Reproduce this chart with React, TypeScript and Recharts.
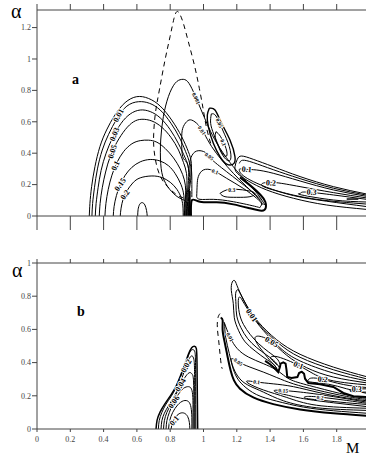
import { ComposedChart, Line, Scatter, XAxis, YAxis } from 'recharts'

const SERIF = 'Liberation Serif, Times New Roman, serif'

const mTicks = [0, 0.2, 0.4, 0.6, 0.8, 1, 1.2, 1.4, 1.6, 1.8, 2]
const aTicks = [0, 0.2, 0.4, 0.6, 0.8, 1, 1.2]
const bTicks = [0, 0.2, 0.4, 0.6, 0.8, 1]

// panel a: left lobe arches
const aArch1 = [[0.314,0],[0.318,0.081],[0.328,0.187],[0.348,0.314],[0.378,0.442],[0.418,0.548],[0.468,0.643],[0.529,0.722],[0.599,0.76],[0.669,0.749],[0.739,0.701],[0.809,0.611],[0.869,0.505],[0.909,0.41],[0.927,0.335],[0.923,0.229],[0.911,0.123],[0.909,0]]
const aArch2 = [[0.33,0],[0.334,0.08],[0.345,0.18],[0.363,0.3],[0.392,0.42],[0.43,0.52],[0.48,0.62],[0.54,0.7],[0.61,0.728],[0.675,0.718],[0.74,0.675],[0.805,0.59],[0.86,0.49],[0.9,0.39],[0.918,0.32],[0.916,0.22],[0.906,0.12],[0.903,0]]
const aArch3 = [[0.35,0],[0.355,0.08],[0.367,0.18],[0.385,0.29],[0.415,0.4],[0.455,0.5],[0.505,0.59],[0.56,0.65],[0.62,0.675],[0.68,0.665],[0.74,0.625],[0.8,0.55],[0.85,0.46],[0.89,0.37],[0.91,0.3],[0.908,0.2],[0.9,0.1],[0.898,0]]
const aArch4 = [[0.374,0],[0.379,0.08],[0.392,0.18],[0.412,0.28],[0.44,0.38],[0.48,0.47],[0.53,0.55],[0.58,0.6],[0.63,0.616],[0.69,0.605],[0.75,0.565],[0.805,0.5],[0.85,0.42],[0.88,0.34],[0.898,0.27],[0.9,0.18],[0.895,0.09],[0.893,0]]
const aArch5 = [[0.408,0],[0.414,0.08],[0.428,0.17],[0.45,0.26],[0.48,0.34],[0.52,0.41],[0.57,0.46],[0.62,0.48],[0.67,0.483],[0.72,0.47],[0.77,0.43],[0.82,0.37],[0.86,0.3],[0.885,0.23],[0.893,0.16],[0.89,0.08],[0.888,0]]
const aArch6 = [[0.458,0],[0.463,0.06],[0.477,0.13],[0.5,0.2],[0.53,0.26],[0.57,0.31],[0.62,0.345],[0.68,0.36],[0.74,0.35],[0.79,0.32],[0.83,0.27],[0.865,0.2],[0.882,0.13],[0.885,0.06],[0.884,0]]
const aArch7 = [[0.5,0],[0.505,0.05],[0.518,0.11],[0.54,0.16],[0.575,0.21],[0.62,0.243],[0.69,0.255],[0.75,0.245],[0.8,0.215],[0.84,0.17],[0.868,0.11],[0.877,0.05],[0.878,0]]
const aInner = [[0.605,0],[0.607,0.04],[0.617,0.075],[0.633,0.085],[0.648,0.07],[0.658,0.035],[0.662,0]]

// panel a: dashed boundary and middle family
const aDash = [[0.885,0],[0.885,0.102],[0.859,0.123],[0.809,0.161],[0.759,0.219],[0.723,0.304],[0.703,0.42],[0.701,0.527],[0.711,0.654],[0.735,0.803],[0.769,0.994],[0.799,1.142],[0.823,1.259],[0.839,1.301],[0.855,1.291],[0.879,1.227],[0.909,1.11],[0.945,0.962],[0.975,0.813],[0.999,0.675],[1.019,0.558],[1.043,0.463]]
const aTall = [[0.909,0],[0.903,0.081],[0.859,0.113],[0.809,0.155],[0.763,0.229],[0.743,0.335],[0.743,0.484],[0.759,0.633],[0.789,0.76],[0.829,0.845],[0.869,0.87],[0.905,0.856],[0.939,0.792],[0.969,0.718],[1.003,0.633],[1.043,0.537],[1.099,0.431],[1.179,0.314],[1.259,0.219],[1.329,0.134],[1.369,0.07]]
const aMid01 = [[0.918,0.25],[0.9,0.34],[0.875,0.378],[0.869,0.484],[0.875,0.558],[0.899,0.601],[0.929,0.611],[0.969,0.58],[1.003,0.527],[1.049,0.442],[1.109,0.357],[1.179,0.272],[1.259,0.187],[1.329,0.113],[1.359,0.07]]
const aMid05 = [[0.93,0.12],[0.93,0.2],[0.927,0.3],[0.919,0.346],[0.939,0.399],[0.979,0.416],[1.019,0.399],[1.049,0.361],[1.139,0.282],[1.279,0.166],[1.349,0.102]]
const aMid1 = [[0.959,0.123],[0.962,0.2],[0.969,0.251],[0.999,0.293],[1.059,0.289],[1.139,0.24],[1.239,0.176],[1.319,0.113],[1.349,0.076],[1.339,0.055],[1.319,0.059],[1.179,0.091],[1.059,0.106],[0.979,0.106],[0.959,0.123]]
const aThick = [[0.925,0],[0.93,0.1],[0.979,0.091],[1.079,0.087],[1.179,0.074],[1.279,0.049],[1.349,0.034],[1.373,0.049],[1.371,0.091],[1.343,0.134],[1.289,0.187],[1.219,0.246]]
const aVert = [[0.917,0],[0.917,0.16]]
const aLoop03 = [[1.099,0.144],[1.139,0.166],[1.199,0.17],[1.269,0.161],[1.309,0.144],[1.279,0.123],[1.199,0.119],[1.129,0.123],[1.099,0.144]]
const aSmall1 = [[1.035,0.686],[1.069,0.675],[1.109,0.59],[1.159,0.484],[1.189,0.378],[1.179,0.331],[1.139,0.331],[1.099,0.378],[1.059,0.463],[1.029,0.569],[1.023,0.643],[1.035,0.686]]
const aSmall2 = [[1.047,0.65],[1.075,0.637],[1.115,0.548],[1.155,0.442],[1.163,0.361],[1.135,0.361],[1.099,0.42],[1.063,0.516],[1.043,0.59],[1.047,0.65]]
const aSmall3 = [[1.075,0.537],[1.103,0.505],[1.135,0.431],[1.139,0.382],[1.115,0.395],[1.089,0.452],[1.071,0.501],[1.075,0.537]]

// panel a: right tail
const aTail1 = [[1.98,0.14],[1.78,0.187],[1.58,0.251],[1.419,0.314],[1.299,0.361],[1.229,0.382],[1.203,0.361],[1.189,0.314],[1.203,0.272],[1.269,0.223],[1.379,0.166],[1.54,0.113],[1.74,0.07],[1.98,0.042]]
const aTail1c = [[1.98,0.133],[1.78,0.177],[1.58,0.238],[1.419,0.295],[1.299,0.34],[1.235,0.355],[1.215,0.335]]
const aTail1b = [[1.98,0.125],[1.78,0.166],[1.58,0.223],[1.419,0.272],[1.319,0.293],[1.259,0.297],[1.222,0.3],[1.215,0.29],[1.23,0.265],[1.279,0.23],[1.379,0.183],[1.54,0.13],[1.74,0.094],[1.98,0.06]]
const aTail2 = [[1.98,0.115],[1.78,0.149],[1.58,0.187],[1.439,0.212],[1.369,0.212],[1.349,0.202],[1.369,0.183],[1.479,0.149],[1.68,0.106],[1.98,0.076]]
const aTail3 = [[1.98,0.106],[1.78,0.134],[1.64,0.151],[1.59,0.151],[1.58,0.144],[1.59,0.134],[1.78,0.102],[1.98,0.089]]
const aTailDash = [[1.86,0.108],[1.93,0.108]]

// panel b: left lobe
const bLobe1 = [[0.715,0],[0.721,0.052],[0.739,0.102],[0.769,0.153],[0.803,0.203],[0.835,0.257],[0.863,0.323],[0.889,0.394],[0.911,0.454],[0.929,0.49],[0.945,0.498],[0.957,0.484],[0.961,0.394],[0.963,0.193],[0.965,0]]
const bLobe2 = [[0.729,0],[0.734,0.05],[0.75,0.1],[0.775,0.15],[0.805,0.195],[0.835,0.25],[0.86,0.31],[0.885,0.37],[0.905,0.43],[0.922,0.47],[0.938,0.478],[0.948,0.465],[0.952,0.4],[0.953,0.2],[0.954,0]]
const bLobe3 = [[0.745,0],[0.75,0.05],[0.765,0.095],[0.79,0.14],[0.82,0.19],[0.85,0.25],[0.875,0.32],[0.9,0.39],[0.918,0.43],[0.932,0.44],[0.942,0.42],[0.946,0.36],[0.947,0.2],[0.948,0]]
const bLobe4 = [[0.76,0],[0.765,0.05],[0.78,0.1],[0.805,0.15],[0.835,0.21],[0.865,0.27],[0.895,0.32],[0.918,0.34],[0.932,0.33],[0.94,0.29],[0.942,0.15],[0.943,0]]
const bLobe5 = [[0.775,0],[0.78,0.05],[0.795,0.1],[0.82,0.16],[0.85,0.21],[0.88,0.245],[0.91,0.255],[0.928,0.24],[0.936,0.19],[0.937,0.1],[0.937,0]]
const bLobe6 = [[0.79,0],[0.797,0.05],[0.815,0.1],[0.845,0.145],[0.88,0.17],[0.91,0.165],[0.925,0.13],[0.93,0.07],[0.93,0]]
const bLobe7 = [[0.805,0],[0.815,0.04],[0.835,0.075],[0.86,0.095],[0.885,0.095],[0.905,0.075],[0.915,0.04],[0.918,0]]

// panel b: upper crescent family
const bU1 = [[1.98,0.315],[1.78,0.373],[1.58,0.45],[1.439,0.538],[1.329,0.645],[1.259,0.745],[1.209,0.845],[1.189,0.892],[1.173,0.886],[1.167,0.835],[1.179,0.755],[1.185,0.67],[1.21,0.595],[1.25,0.525],[1.31,0.47],[1.37,0.425],[1.42,0.39],[1.44,0.36]]
const bU2 = [[1.98,0.302],[1.78,0.357],[1.58,0.432],[1.449,0.518],[1.339,0.625],[1.269,0.725],[1.223,0.811],[1.205,0.839],[1.193,0.815],[1.195,0.751],[1.2,0.68],[1.225,0.61],[1.265,0.545],[1.32,0.49],[1.38,0.445],[1.43,0.405],[1.455,0.37]]
const bU3 = [[1.98,0.29],[1.78,0.337],[1.58,0.41],[1.459,0.49],[1.359,0.594],[1.289,0.685],[1.239,0.765],[1.219,0.795],[1.209,0.775],[1.215,0.7],[1.24,0.63],[1.28,0.57],[1.33,0.515],[1.39,0.465],[1.44,0.425],[1.46,0.39]]
const bU4 = [[1.98,0.278],[1.78,0.313],[1.62,0.369],[1.5,0.444],[1.409,0.524],[1.349,0.556],[1.318,0.558],[1.31,0.54],[1.335,0.495],[1.37,0.45],[1.4,0.412],[1.43,0.38],[1.445,0.355]]
const bU5 = [[1.98,0.266],[1.78,0.29],[1.66,0.333],[1.57,0.384],[1.479,0.424],[1.425,0.438],[1.402,0.43],[1.415,0.412],[1.443,0.385]]
const bU6 = [[1.98,0.25],[1.84,0.268],[1.716,0.299],[1.65,0.307],[1.63,0.297],[1.644,0.283],[1.75,0.27],[1.86,0.242],[1.98,0.215]]
const bU7 = [[1.98,0.242],[1.92,0.24],[1.88,0.232],[1.9,0.224],[1.98,0.222]]
const bWiggle = [[1.37,0.41],[1.4,0.39],[1.419,0.373],[1.449,0.343],[1.459,0.373],[1.463,0.394],[1.479,0.402],[1.493,0.394],[1.499,0.353],[1.503,0.313],[1.529,0.307],[1.564,0.313],[1.574,0.337],[1.59,0.345],[1.604,0.333],[1.61,0.303],[1.63,0.277],[1.7,0.269],[1.78,0.253],[1.84,0.217],[1.9,0.197],[1.98,0.193]]

// panel b: lower family
const bDash = [[1.099,0.695],[1.087,0.671],[1.083,0.614],[1.091,0.534],[1.099,0.454],[1.107,0.384],[1.113,0.363]]
const bL0 = [[1.103,0.671],[1.115,0.655],[1.115,0.594],[1.129,0.514],[1.145,0.434],[1.163,0.353],[1.183,0.293],[1.219,0.243],[1.299,0.19],[1.419,0.15],[1.58,0.118],[1.78,0.095],[1.98,0.08]]
const bL0b = [[1.127,0.635],[1.133,0.554],[1.155,0.454],[1.175,0.373],[1.199,0.313],[1.239,0.263],[1.319,0.207],[1.439,0.168],[1.6,0.132],[1.78,0.11],[1.98,0.095]]
const bL1 = [[1.123,0.645],[1.159,0.554],[1.203,0.484],[1.269,0.434],[1.359,0.394],[1.43,0.36],[1.48,0.325],[1.54,0.29],[1.68,0.25],[1.86,0.205],[1.98,0.185]]
const bL2 = [[1.98,0.178],[1.86,0.196],[1.68,0.235],[1.54,0.272],[1.44,0.31],[1.359,0.343],[1.279,0.373],[1.209,0.404],[1.169,0.424],[1.172,0.39],[1.19,0.345],[1.225,0.295],[1.28,0.258],[1.36,0.222],[1.48,0.17],[1.68,0.128],[1.98,0.112]]
const bL3 = [[1.98,0.17],[1.86,0.187],[1.7,0.218],[1.54,0.255],[1.419,0.272],[1.319,0.283],[1.262,0.289],[1.275,0.272],[1.36,0.235],[1.5,0.19],[1.68,0.143],[1.98,0.125]]
const bL4 = [[1.98,0.162],[1.78,0.195],[1.62,0.218],[1.479,0.232],[1.425,0.232],[1.44,0.22],[1.5,0.205],[1.6,0.183],[1.78,0.158],[1.98,0.135]]
const bL5 = [[1.98,0.155],[1.86,0.172],[1.7,0.192],[1.62,0.196],[1.605,0.19],[1.63,0.182],[1.72,0.172],[1.86,0.158],[1.98,0.148]]

// contour labels
const aLabelsBig = [
  { x: 0.49, y: 0.64, t: '0.01' }, { x: 0.466, y: 0.52, t: '0.03' }, { x: 0.453, y: 0.41, t: '0.05' },
  { x: 0.472, y: 0.32, t: '0.1' }, { x: 0.5, y: 0.2, t: '0.15' }, { x: 0.529, y: 0.135, t: '0.2' },
  { x: 1.259, y: 0.297, t: '0.1' }, { x: 1.405, y: 0.21, t: '0.2' }, { x: 1.65, y: 0.151, t: '0.3' },
]
const aAnglesBig = [-62, -68, -72, -65, -55, -55, 5, 3, 3]
const aLabelsSmall = [
  { x: 0.956, y: 0.749, t: '0.001' }, { x: 0.99, y: 0.545, t: '0.01' }, { x: 1.035, y: 0.38, t: '0.05' },
  { x: 1.07, y: 0.283, t: '0.1' }, { x: 1.17, y: 0.168, t: '0.3' }, { x: 1.095, y: 0.592, t: '0.05' },
  { x: 1.119, y: 0.468, t: '0.1' },
]
const aAnglesSmall = [65, 55, 35, 20, 0, 65, 65]
const bLabelsBig = [
  { x: 0.897, y: 0.38, t: '0.02' }, { x: 0.862, y: 0.265, t: '0.04' }, { x: 0.822, y: 0.163, t: '0.06' },
  { x: 0.825, y: 0.05, t: '0.1' }, { x: 1.289, y: 0.685, t: '0.01' }, { x: 1.409, y: 0.524, t: '0.05' },
  { x: 1.57, y: 0.384, t: '0.1' }, { x: 1.716, y: 0.299, t: '0.2' }, { x: 1.92, y: 0.235, t: '0.3' },
]
const bAnglesBig = [-62, -60, -55, -50, 55, 30, 22, 5, 0]
const bLabelsSmall = [
  { x: 1.159, y: 0.554, t: '0.01' }, { x: 1.209, y: 0.404, t: '0.05' }, { x: 1.319, y: 0.283, t: '0.1' },
  { x: 1.479, y: 0.232, t: '0.15' }, { x: 1.7, y: 0.19, t: '0.2' },
]
const bAnglesSmall = [62, 35, 8, 4, 3]

type Curve = { data: number[][]; w?: number; dash?: string; curve?: any }

const panelA: Curve[] = [
  { data: aArch1 }, { data: aArch2 }, { data: aArch3 }, { data: aArch4 }, { data: aArch5 },
  { data: aArch6 }, { data: aArch7 }, { data: aInner },
  { data: aDash, dash: '5 4' }, { data: aTall }, { data: aMid01 }, { data: aMid05 }, { data: aMid1 },
  { data: aThick, w: 2 }, { data: aVert, w: 2, curve: 'linear' }, { data: aLoop03 },
  { data: aSmall1, w: 1.4 }, { data: aSmall2 }, { data: aSmall3 },
  { data: aTail1 }, { data: aTail1c }, { data: aTail1b }, { data: aTail2 }, { data: aTail3 },
  { data: aTailDash, w: 1.5, curve: 'linear' },
]

const panelB: Curve[] = [
  { data: bLobe1, w: 1.5 }, { data: bLobe2 }, { data: bLobe3 }, { data: bLobe4 }, { data: bLobe5 },
  { data: bLobe6 }, { data: bLobe7 },
  { data: bU1 }, { data: bU2 }, { data: bU3 }, { data: bU4 }, { data: bU5 }, { data: bU6 }, { data: bU7 },
  { data: bWiggle, w: 2, curve: 'linear' },
  { data: bDash, dash: '5 4' }, { data: bL0, w: 2 }, { data: bL0b }, { data: bL1 }, { data: bL2 },
  { data: bL3 }, { data: bL4 }, { data: bL5 },
]

const toRows = (pts: number[][]) => pts.map(([x, y]) => ({ x, y }))
const withAngles = (labels: { x: number; y: number; t: string }[], angles: number[]) =>
  labels.map((l, i) => ({ ...l, r: angles[i] }))

function contourLabel(size: number) {
  return (props: any) => {
    const { cx, cy, payload } = props
    return (
      <g opacity={0.99}>
        <text
          x={cx}
          y={cy}
          transform={`rotate(${payload.r} ${cx} ${cy})`}
          textAnchor="middle"
          dominantBaseline="central"
          fontFamily={SERIF}
          fontWeight="bold"
          fontSize={size}
          fill="#000"
          stroke="#fff"
          strokeWidth={2}
          paintOrder="stroke"
        >
          {payload.t}
        </text>
      </g>
    )
  }
}

const tickStyle = { fill: '#444', fontSize: 8, fontFamily: SERIF }
const blank = () => ''
const mLabel = (v: number) => (v >= 2 ? '' : String(v))

interface PanelProps {
  curves: Curve[]
  big: any[]
  small: any[]
  yMax: number
  yTicks: number[]
  height: number
  topHeight: number
  topTick: number
  bottomHeight: number
  bottomTick: number
  mLabels: boolean
}

function Panel(p: PanelProps) {
  return (
    <ComposedChart width={380} height={p.height} margin={{ top: 0, right: 10, bottom: 0, left: 0 }}>
      <XAxis
        xAxisId="top"
        orientation="top"
        type="number"
        dataKey="x"
        domain={[0, 2]}
        ticks={mTicks}
        interval={0}
        height={p.topHeight}
        tickSize={p.topTick}
        tickFormatter={blank}
        stroke="#444"
        allowDataOverflow
      />
      <XAxis
        type="number"
        dataKey="x"
        domain={[0, 2]}
        ticks={mTicks}
        interval={0}
        height={p.bottomHeight}
        tickSize={p.bottomTick}
        tickMargin={4}
        tick={tickStyle}
        tickFormatter={p.mLabels ? mLabel : blank}
        stroke="#444"
        allowDataOverflow
      />
      <YAxis
        type="number"
        domain={[0, p.yMax]}
        ticks={p.yTicks}
        interval={0}
        width={37}
        tickSize={5}
        tickMargin={1}
        tick={tickStyle}
        tickFormatter={(v: number) => String(v)}
        stroke="#444"
        allowDataOverflow
      />
      {p.curves.map((c, i) => (
        <Line
          key={i}
          data={toRows(c.data)}
          dataKey="y"
          type={c.curve ?? 'natural'}
          stroke="#000"
          strokeWidth={c.w ?? 1}
          strokeDasharray={c.dash}
          dot={false}
          activeDot={false}
          isAnimationActive={false}
        />
      ))}
      <Scatter data={p.big} dataKey="y" shape={contourLabel(8)} isAnimationActive={false} />
      <Scatter data={p.small} dataKey="y" shape={contourLabel(5.5)} isAnimationActive={false} />
    </ComposedChart>
  )
}

export default function App() {
  return (
    <div style={{ position: 'absolute', left: 0, top: 0, width: 366, height: 459, overflow: 'hidden', background: '#fff', fontFamily: SERIF }}>
      <div style={{ position: 'absolute', left: 0, top: 0 }}>
        <Panel
          curves={panelA}
          big={withAngles(aLabelsBig, aAnglesBig)}
          small={withAngles(aLabelsSmall, aAnglesSmall)}
          yMax={1.312}
          yTicks={aTicks}
          height={235}
          topHeight={10}
          topTick={6}
          bottomHeight={19}
          bottomTick={14}
          mLabels={false}
        />
      </div>
      <div style={{ position: 'absolute', left: 0, top: 252 }}>
        <Panel
          curves={panelB}
          big={withAngles(bLabelsBig, bAnglesBig)}
          small={withAngles(bLabelsSmall, bAnglesSmall)}
          yMax={1}
          yTicks={bTicks}
          height={202}
          topHeight={11}
          topTick={4}
          bottomHeight={25}
          bottomTick={3}
          mLabels
        />
      </div>
      <span style={{ position: 'absolute', left: 11, top: 1, fontSize: 20, lineHeight: 1 }}>α</span>
      <span style={{ position: 'absolute', left: 12, top: 260, fontSize: 20, lineHeight: 1 }}>α</span>
      <span style={{ position: 'absolute', left: 72, top: 73, fontSize: 14, lineHeight: 1, fontWeight: 'bold' }}>a</span>
      <span style={{ position: 'absolute', left: 77, top: 305, fontSize: 14, lineHeight: 1, fontWeight: 'bold' }}>b</span>
      <span style={{ position: 'absolute', left: 346, top: 441, fontSize: 15, lineHeight: 1 }}>M</span>
    </div>
  )
}
